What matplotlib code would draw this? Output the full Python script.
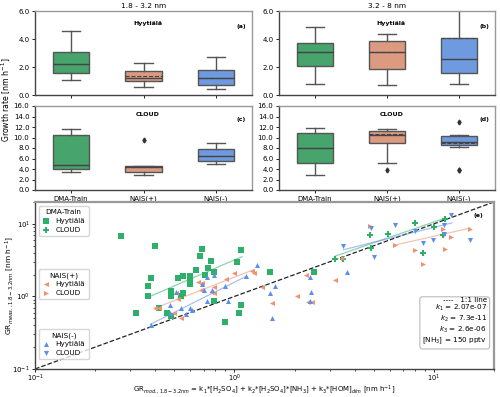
import matplotlib
matplotlib.use("Agg")
import matplotlib.pyplot as plt

# ---- box-plot statistics ----
GROUPS = ["DMA-Train", "NAIS(+)", "NAIS(-)"]
# panel a: 1.8-3.2 nm, Hyytiala
A_MED = [2.2, 1.25, 1.2]
A_Q1 = [1.6, 1.0, 0.75]
A_Q3 = [3.05, 1.7, 1.8]
A_LO = [1.05, 0.55, 0.45]
A_HI = [4.6, 2.3, 2.75]
A_MEAN = [2.2, 1.35, 1.2]
A_FLI = [[], [], []]
# panel b: 3.2-8 nm, Hyytiala
B_MED = [3.1, 3.05, 2.6]
B_Q1 = [2.1, 1.85, 1.6]
B_Q3 = [3.75, 3.85, 4.05]
B_LO = [0.8, 0.75, 0.8]
B_HI = [4.85, 4.35, 6.6]
B_MEAN = [3.1, 3.05, 4.05]
B_FLI = [[], [], []]
# panel c: 1.8-3.2 nm, CLOUD
C_MED = [4.7, 4.4, 6.5]
C_Q1 = [4.0, 3.5, 5.6]
C_Q3 = [10.4, 4.6, 7.8]
C_LO = [3.4, 2.8, 5.0]
C_HI = [11.7, 4.6, 8.9]
C_MEAN = [4.7, 4.4, 6.5]
C_FLI = [[], [9.5], []]
# panel d: 3.2-8 nm, CLOUD
D_MED = [8.0, 10.4, 9.2]
D_Q1 = [5.2, 8.9, 8.6]
D_Q3 = [10.8, 11.3, 10.3]
D_LO = [2.9, 5.2, 8.2]
D_HI = [11.9, 11.7, 10.4]
D_MEAN = [8.0, 10.6, 9.0]
D_FLI = [[], [3.9], [13.0, 3.9, 3.8]]

# ---- scatter data (GR_mod, GR_meas) ----
DMA_HYY_X = [0.27, 0.40, 0.69, 0.67, 0.76, 0.74, 0.64, 0.38, 0.52, 0.55, 0.60,
             0.60, 0.60, 0.37, 0.71, 0.79, 1.03, 1.08, 0.37, 0.48, 0.48, 0.55,
             0.54, 0.42, 0.32, 0.46, 0.48, 0.79, 0.90, 1.05, 1.08, 1.50, 2.5]
DMA_HYY_Y = [6.8, 5.0, 4.5, 3.6, 3.1, 2.5, 2.3, 1.77, 1.8, 1.9, 1.9,
             1.67, 1.5, 1.38, 1.95, 2.2, 3.0, 4.4, 1.0, 1.18, 1.02, 1.1,
             1.0, 0.70, 0.60, 0.60, 0.54, 0.86, 0.44, 0.60, 0.77, 2.2, 2.15]
DMA_CLD_X = [3.2, 3.5, 4.8, 5.9, 4.85, 8.0, 10.0, 11.3, 11.1, 8.8]
DMA_CLD_Y = [3.3, 3.3, 7.1, 7.2, 4.6, 10.3, 9.1, 11.5, 7.1, 4.0]

NP_HYY_X = [0.99, 0.91, 0.66, 0.69, 0.79, 0.76, 0.68, 0.79, 0.51, 0.52, 0.40,
            0.42, 0.50, 0.54, 1.23, 1.25, 1.37, 2.28, 3.18, 2.05, 1.54, 2.35, 2.45]
NP_HYY_Y = [2.1, 1.74, 1.57, 1.55, 1.33, 1.16, 1.22, 1.10, 1.12, 0.92, 0.69,
            0.70, 0.59, 0.51, 2.25, 2.08, 1.34, 1.96, 1.71, 1.01, 0.81, 0.83, 0.85]
NP_CLD_X = [4.8, 15.1, 6.4, 8.0, 11.3, 12.2, 11.1, 8.8, 3.5]
NP_CLD_Y = [9.4, 8.5, 5.1, 4.4, 4.5, 6.5, 8.6, 2.8, 3.35]

NM_HYY_X = [0.73, 0.79, 0.69, 0.70, 0.77, 0.90, 0.73, 0.93, 0.51, 0.475, 0.54,
            0.60, 0.61, 0.475, 0.57, 0.38, 1.29, 1.14, 1.59, 2.40, 3.67, 2.43,
            1.51, 2.39, 1.55]
NM_HYY_Y = [1.87, 1.97, 1.47, 1.21, 1.21, 1.41, 0.87, 0.86, 1.15, 0.77, 0.70,
            0.69, 0.64, 0.60, 0.57, 0.40, 2.67, 1.90, 1.41, 1.86, 2.15, 1.14,
            1.11, 0.86, 0.50]
NM_CLD_X = [12.2, 6.36, 4.82, 8.0, 11.2, 9.9, 8.8, 15.1, 5.0, 3.5, 11.2]
NM_CLD_Y = [13.3, 9.7, 8.7, 7.9, 9.75, 5.9, 5.4, 5.9, 3.5, 5.0, 7.2]

# fitted lines: ([x_start, x_end], [y_start, y_end])
FIT_DMA_HYY = ([0.374, 1.09], [0.99, 3.53])
FIT_NP_HYY = ([0.40, 1.25], [0.69, 2.34])
FIT_NM_HYY = ([0.379, 1.14], [0.413, 1.88])
FIT_DMA_CLD = ([3.21, 11.35], [3.61, 11.97])
FIT_NP_CLD = ([6.36, 15.1], [5.1, 8.7])
FIT_NM_CLD = ([3.52, 12.3], [4.4, 10.3])

GREEN = "#2fb06a"
SALMON = "#ef9272"
BLUE = "#5b8fec"
BOX_COLORS = ["#46a46c", "#dc9a81", "#6f9ae0"]

TICK_FS = 5
fig = plt.figure(figsize=(5.0, 3.97), dpi=100)
W, H = 500.0, 397.0


def axes_px(x0, y0, x1, y1):
    return fig.add_axes([x0 / W, 1 - y1 / H, (x1 - x0) / W, (y1 - y0) / H])


def style(ax):
    for sp in ax.spines.values():
        sp.set_color("#999999")
        sp.set_linewidth(1.0)
    ax.spines["left"].set_color("#444444")
    ax.spines["bottom"].set_color("#444444")
    ax.tick_params(labelsize=TICK_FS, length=2.5, width=0.6, pad=1.5)


def boxpanel(ax, med, q1, q3, lo, hi, mean, fli, ymax, step):
    stats = []
    for i in range(3):
        stats.append(dict(med=med[i], q1=q1[i], q3=q3[i], whislo=lo[i],
                          whishi=hi[i], mean=mean[i], fliers=fli[i]))
    bp = ax.bxp(stats, positions=range(3), widths=0.5, patch_artist=True,
                showmeans=True, meanline=True,
                boxprops=dict(edgecolor="#555555", linewidth=1.0),
                medianprops=dict(color="#444444", linewidth=1.0),
                meanprops=dict(color="#444444", linewidth=0.8, linestyle="--"),
                whiskerprops=dict(color="#555555", linewidth=1.0),
                capprops=dict(color="#555555", linewidth=1.0),
                flierprops=dict(marker="d", markersize=2.5, markerfacecolor="#333333",
                                markeredgecolor="#333333"))
    for patch, c in zip(bp["boxes"], BOX_COLORS):
        patch.set_facecolor(c)
    ax.set_xlim(-0.5, 2.5)
    ax.set_ylim(0, ymax)
    ax.set_yticks([step * k for k in range(int(ymax / step) + 1)])
    ax.yaxis.set_major_formatter(matplotlib.ticker.FormatStrFormatter("%.1f"))
    style(ax)


ax_a = axes_px(35, 11, 252, 95)
ax_b = axes_px(279, 11, 495, 95)
ax_c = axes_px(35, 106, 252, 190)
ax_d = axes_px(279, 106, 495, 190)

boxpanel(ax_a, A_MED, A_Q1, A_Q3, A_LO, A_HI, A_MEAN, A_FLI, 6.0, 2.0)
boxpanel(ax_b, B_MED, B_Q1, B_Q3, B_LO, B_HI, B_MEAN, B_FLI, 6.0, 2.0)
boxpanel(ax_c, C_MED, C_Q1, C_Q3, C_LO, C_HI, C_MEAN, C_FLI, 16.0, 2.0)
boxpanel(ax_d, D_MED, D_Q1, D_Q3, D_LO, D_HI, D_MEAN, D_FLI, 16.0, 2.0)

for ax in (ax_a, ax_b):
    ax.set_xticklabels([])
for ax in (ax_c, ax_d):
    ax.set_xticklabels(GROUPS)

ax_a.set_title("1.8 - 3.2 nm", fontsize=5.3, pad=2)
ax_b.set_title("3.2 - 8 nm", fontsize=5.3, pad=2)
for ax, site, tag, ty in ((ax_a, "Hyytiälä", "(a)", 0.81), (ax_b, "Hyytiälä", "(b)", 0.81),
                          (ax_c, "CLOUD", "(c)", 0.84), (ax_d, "CLOUD", "(d)", 0.84)):
    sy = 0.85 if site == "Hyytiälä" else 0.90
    ax.text(0.52, sy, site, transform=ax.transAxes, fontsize=4.5, fontweight="bold",
            ha="center", va="center")
    ax.text(0.95, ty, tag, transform=ax.transAxes, fontsize=4.5, fontweight="bold",
            ha="center", va="center")
fig.text(0.013, 1 - 100 / H, "Growth rate [nm h$^{-1}$]", rotation=90,
         ha="center", va="center", fontsize=5.6)

# ---- scatter panel ----
ax = axes_px(35, 202, 494, 369)
ax.set_xscale("log")
ax.set_yscale("log")
ax.set_xlim(0.1, 20)
ax.set_ylim(0.1, 20)
ax.plot([0.1, 20], [0.1, 20], "--", color="#222222", lw=0.9, zorder=1)

for fit, c in ((FIT_DMA_HYY, GREEN), (FIT_NP_HYY, SALMON), (FIT_NM_HYY, BLUE),
               (FIT_DMA_CLD, GREEN), (FIT_NP_CLD, SALMON), (FIT_NM_CLD, BLUE)):
    ax.plot(fit[0], fit[1], color=c, lw=0.9, alpha=0.55, zorder=2)

ms = 13
h1 = ax.scatter(DMA_HYY_X, DMA_HYY_Y, marker="s", s=ms, color=GREEN, zorder=3, lw=0)
h2 = ax.scatter(DMA_CLD_X, DMA_CLD_Y, marker="P", s=ms + 8, color=GREEN, zorder=3, lw=0)
h3 = ax.scatter(NP_HYY_X, NP_HYY_Y, marker="<", s=ms, color=SALMON, zorder=3, lw=0)
h4 = ax.scatter(NP_CLD_X, NP_CLD_Y, marker=">", s=ms, color=SALMON, zorder=3, lw=0)
h5 = ax.scatter(NM_HYY_X, NM_HYY_Y, marker="^", s=ms, color=BLUE, zorder=3, lw=0)
h6 = ax.scatter(NM_CLD_X, NM_CLD_Y, marker="v", s=ms, color=BLUE, zorder=3, lw=0)

leg_kw = dict(fontsize=5.2, title_fontsize=5.2, loc="upper left", frameon=True,
              handletextpad=0.9, borderpad=0.45, labelspacing=0.35, handlelength=1.0,
              borderaxespad=0.0)
l1 = ax.legend([h1, h2], ["Hyytiälä", "CLOUD"], title="DMA-Train",
               bbox_to_anchor=(0.008, 0.975), **leg_kw)
ax.add_artist(l1)
l2 = ax.legend([h3, h4], ["Hyytiälä", "CLOUD"], title="NAIS(+)",
               bbox_to_anchor=(0.008, 0.6), **leg_kw)
ax.add_artist(l2)
l3 = ax.legend([h5, h6], ["Hyytiälä", "CLOUD"], title="NAIS(-)",
               bbox_to_anchor=(0.008, 0.24), **leg_kw)

ax.text(0.985, 0.135,
        "----   1:1 line\n$k_1$ = 2.07e-07\n$k_2$ = 7.3e-11\n$k_3$ = 2.6e-06\n[NH$_3$] = 150 pptv",
        transform=ax.transAxes, ha="right", va="bottom", fontsize=5.2, linespacing=1.1,
        bbox=dict(boxstyle="round,pad=0.35", fc="white", ec="#bbbbbb", lw=0.8))
ax.text(0.967, 0.917, "(e)", transform=ax.transAxes, fontsize=4.5, fontweight="bold",
        ha="center", va="center")

ax.set_xlabel("GR$_{mod., 1.8-3.2nm}$ = k$_1$*[H$_2$SO$_4$] + k$_2$*[H$_2$SO$_4$]*[NH$_3$]"
              " + k$_3$*[HOM]$_{dim}$ [nm h$^{-1}$]", fontsize=5.0)
ax.set_ylabel("GR$_{meas., 1.8-3.2nm}$ [nm h$^{-1}$]", fontsize=5.4)
style(ax)
ax.tick_params(axis="x", which="both", pad=0.5, length=2.0, labelsize=4.8)
ax.tick_params(axis="y", pad=1.0)
ax.xaxis.set_label_coords(0.5, -0.086)
ax.yaxis.set_label_coords(-0.042, 0.5)
ax.spines["top"].set_linewidth(1.6)
ax.spines["right"].set_linewidth(1.6)
ax.tick_params(which="minor", length=1.5, width=0.5)

fig.savefig("out.png", dpi=100)
